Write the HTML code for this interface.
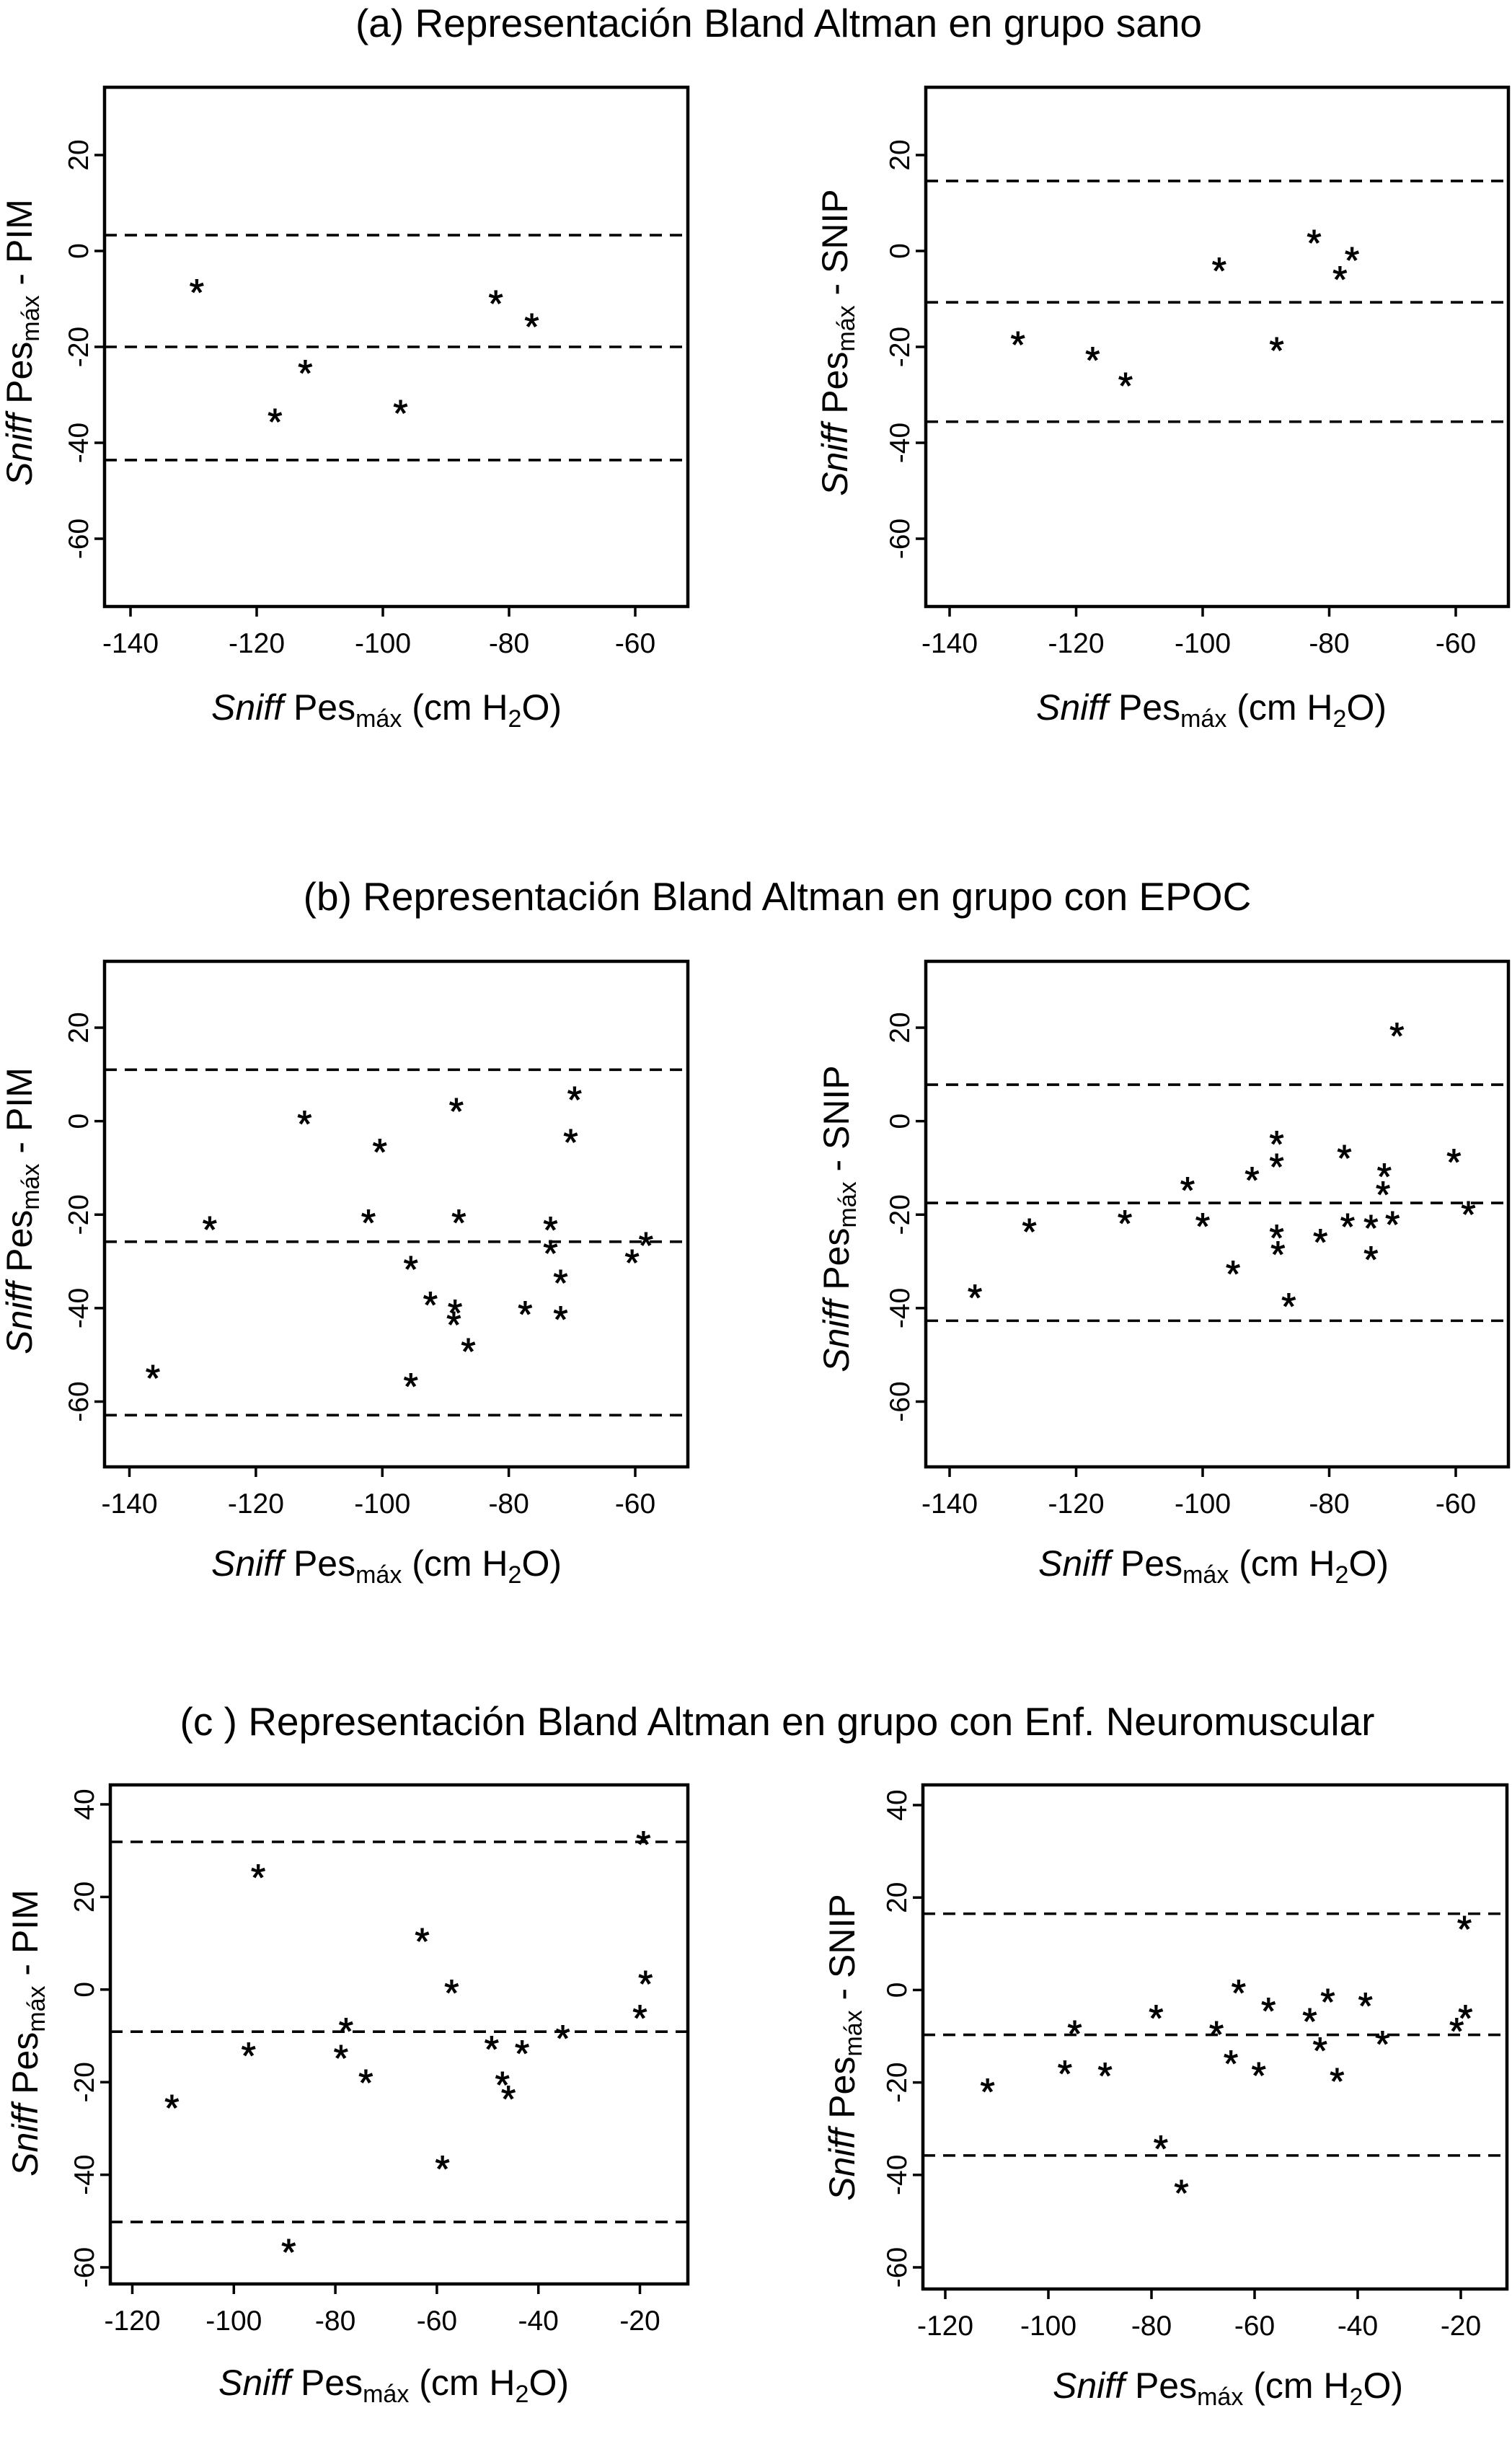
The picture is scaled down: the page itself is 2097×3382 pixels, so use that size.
<!DOCTYPE html>
<html><head><meta charset="utf-8"><style>
html,body{margin:0;padding:0;background:#fff;}
svg{display:block;font-family:"Liberation Sans",Arial,sans-serif;}
</style></head><body>
<svg id="fig" width="2097" height="3382" viewBox="0 0 2097 3382" xmlns="http://www.w3.org/2000/svg">
<rect width="2097" height="3382" fill="#fff"/>
<text x="1080" y="51" font-size="55" text-anchor="middle">(a) Representación Bland Altman en grupo sano</text>
<text x="1078" y="1262" font-size="55" text-anchor="middle">(b) Representación Bland Altman en grupo con EPOC</text>
<text x="1078" y="2406" font-size="55" text-anchor="middle">(c ) Representación Bland Altman en grupo con Enf. Neuromuscular</text>
</svg>
<script>
// ---- data ----
const aLeftX = [-129.5, -82.1, -76.4, -112.3, -117.1, -97.2];
const aLeftY = [-7.0, -9.3, -14.1, -23.8, -34.0, -32.2];
const aLeftLines = [3.3, -20.0, -43.6];
const aRightX = [-129.2, -117.4, -112.2, -97.4, -88.3, -82.4, -78.3, -76.4];
const aRightY = [-17.9, -21.1, -26.5, -2.5, -19.1, 3.3, -4.3, -0.3];
const aRightLines = [14.6, -10.7, -35.6];
const bLeftX = [-136.3, -127.3, -112.3, -100.4, -102.2, -88.3, -87.9, -95.5, -92.4, -88.5, -88.7, -86.4, -95.5, -77.4, -73.4, -73.4, -71.8, -71.8, -69.6, -70.2, -60.5, -58.3];
const bLeftY = [-53.3, -21.5, 1.1, -4.9, -20.0, 3.8, -20.0, -30.0, -37.6, -39.3, -41.9, -47.6, -55.1, -39.6, -21.6, -26.6, -32.9, -40.7, 6.3, -2.8, -28.6, -24.9];
const bLeftLines = [11.0, -25.8, -62.9];
const bRightX = [-136.0, -127.4, -112.3, -102.4, -100.0, -95.2, -92.2, -88.3, -88.3, -88.3, -88.1, -86.4, -81.4, -77.6, -77.1, -73.4, -73.4, -71.3, -71.5, -70.0, -69.3, -60.3, -58.0];
const bRightY = [-36.1, -22.0, -20.2, -13.1, -20.8, -31.0, -10.9, -3.2, -8.1, -23.3, -26.8, -37.9, -24.2, -6.2, -20.9, -21.2, -27.9, -10.2, -14.0, -20.4, 19.9, -7.1, -18.3];
const bRightLines = [7.8, -17.5, -42.7];
const cLeftX = [-112.2, -95.2, -97.1, -89.2, -77.9, -78.9, -74.0, -62.9, -57.1, -58.9, -49.2, -47.1, -45.9, -43.2, -35.2, -19.3, -18.9, -20.0];
const cLeftY = [-23.9, 25.9, -12.6, -55.0, -7.3, -13.1, -18.4, 12.1, 1.0, -37.0, -11.2, -18.9, -21.9, -12.1, -8.8, 33.1, 2.9, -4.5];
const cLeftLines = [31.9, -9.1, -50.2];
const cRightX = [-111.8, -96.8, -94.9, -89.0, -79.1, -78.2, -74.2, -67.4, -63.1, -64.6, -59.2, -57.3, -49.3, -45.8, -47.3, -44.0, -38.5, -35.2, -20.8, -19.1, -19.3];
const cRightY = [-20.3, -16.4, -7.7, -16.9, -4.4, -32.6, -42.2, -7.9, 1.1, -14.2, -16.8, -2.8, -5.1, -0.9, -11.4, -18.0, -1.7, -10.0, -7.2, -4.4, 14.9];
const cRightLines = [16.5, -9.7, -35.8];
const xTicksAB = [-140, -120, -100, -80, -60];
const yTicksAB = [20, 0, -20, -40, -60];
const xTicksC = [-120, -100, -80, -60, -40, -20];
const yTicksC = [40, 20, 0, -20, -40, -60];

const NS = 'http://www.w3.org/2000/svg';
const svg = document.getElementById('fig');
function mk(tag, attrs, parent) {
  const e = document.createElementNS(NS, tag);
  for (const k in attrs) e.setAttribute(k, attrs[k]);
  (parent || svg).appendChild(e);
  return e;
}
function scale(v0, p0, v1, p1) { return v => p0 + (v - v0) * (p1 - p0) / (v1 - v0); }

function panel(cfg) {
  const g = mk('g', {});
  
  
  const sx = scale(cfg.xs[0], cfg.xs[1], cfg.xs[2], cfg.xs[3]);
  const sy = scale(cfg.ys[0], cfg.ys[1], cfg.ys[2], cfg.ys[3]);
  const [l, t, r, b] = cfg.box;
  cfg.lines.forEach((v, i) => {
    const ln = mk('line', {x1: l, x2: r, y1: sy(v), y2: sy(v), stroke: '#000', 'stroke-width': 3.6, 'stroke-dasharray': '17 11'}, g);
    
    
  });
  const box = mk('rect', {x: l, y: t, width: r - l, height: b - t, fill: 'none', stroke: '#000', 'stroke-width': 4.5}, g);
  
  
  cfg.xt.forEach(v => {
    const x = sx(v);
    mk('line', {x1: x, x2: x, y1: b, y2: b + 14, stroke: '#000', 'stroke-width': 3.5}, g);
    const tx = mk('text', {x: x, y: b + 64, 'font-size': 39, 'text-anchor': 'middle'}, g);
    tx.textContent = v;
    
    
  });
  cfg.yt.forEach(v => {
    const y = sy(v);
    mk('line', {x1: l - 14, x2: l, y1: y, y2: y, stroke: '#000', 'stroke-width': 3.5}, g);
    const tx = mk('text', {x: 0, y: 0, 'font-size': 39, 'text-anchor': 'middle', transform: `translate(${l - 23},${y}) rotate(-90)`}, g);
    tx.textContent = v;
    
    
  });
  cfg.px.forEach((xv, i) => {
    const s = mk('text', {x: sx(xv), y: sy(cfg.py[i]) + 29, 'font-size': 52, 'text-anchor': 'middle', stroke: '#000', 'stroke-width': 1}, g);
    s.textContent = '*';
    
    
  });
  const yt = mk('text', {x: 0, y: 0, 'font-size': 50, 'text-anchor': 'middle', transform: `translate(${cfg.yTitle[0]},${cfg.yTitle[1]}) rotate(-90)`}, g);
  
  
  yt.innerHTML = `<tspan font-style="italic">Sniff</tspan> Pes<tspan font-size="34" dy="10">máx</tspan><tspan dy="-10"> - ${cfg.yLabel}</tspan>`;
  const xt = mk('text', {x: cfg.xTitle[0], y: cfg.xTitle[1], 'font-size': 50, 'text-anchor': 'middle'}, g);
  
  
  xt.innerHTML = `<tspan font-style="italic">Sniff</tspan> Pes<tspan font-size="34" dy="10">máx</tspan><tspan dy="-10"> (cm H</tspan><tspan font-size="34" dy="10">2</tspan><tspan dy="-10">O)</tspan>`;
}

panel({name: 'panel-a-pim', box: [145, 121, 954, 841], xs: [-140, 181, -60, 881], ys: [20, 215, -60, 747], xt: xTicksAB, yt: yTicksAB, px: aLeftX, py: aLeftY, lines: aLeftLines, yLabel: 'PIM', yTitle: [44, 475], xTitle: [536, 998]});
panel({name: 'panel-a-snip', box: [1284, 121, 2092, 841], xs: [-140, 1317, -60, 2019], ys: [20, 215, -60, 747], xt: xTicksAB, yt: yTicksAB, px: aRightX, py: aRightY, lines: aRightLines, yLabel: 'SNIP', yTitle: [1175, 475], xTitle: [1680, 998]});
panel({name: 'panel-b-pim', box: [145, 1333, 954, 2034], xs: [-140, 179.5, -60, 881], ys: [20, 1425, -60, 1943.5], xt: xTicksAB, yt: yTicksAB, px: bLeftX, py: bLeftY, lines: bLeftLines, yLabel: 'PIM', yTitle: [44, 1679], xTitle: [536, 2185]});
panel({name: 'panel-b-snip', box: [1284, 1333, 2092, 2034], xs: [-140, 1317, -60, 2019], ys: [20, 1425, -60, 1943.5], xt: xTicksAB, yt: yTicksAB, px: bRightX, py: bRightY, lines: bRightLines, yLabel: 'SNIP', yTitle: [1177, 1690], xTitle: [1683, 2185]});
panel({name: 'panel-c-pim', box: [153, 2475, 954, 3167], xs: [-120, 183.5, -20, 887.5], ys: [40, 2502, -60, 3144], xt: xTicksC, yt: yTicksC, px: cLeftX, py: cLeftY, lines: cLeftLines, yLabel: 'PIM', yTitle: [52, 2819], xTitle: [546, 3321]});
panel({name: 'panel-c-snip', box: [1280, 2475, 2090, 3174], xs: [-120, 1311, -20, 2026], ys: [40, 2503, -60, 3144], xt: xTicksC, yt: yTicksC, px: cRightX, py: cRightY, lines: cRightLines, yLabel: 'SNIP', yTitle: [1185, 2839], xTitle: [1703, 3325]});
</script>
</body></html>
